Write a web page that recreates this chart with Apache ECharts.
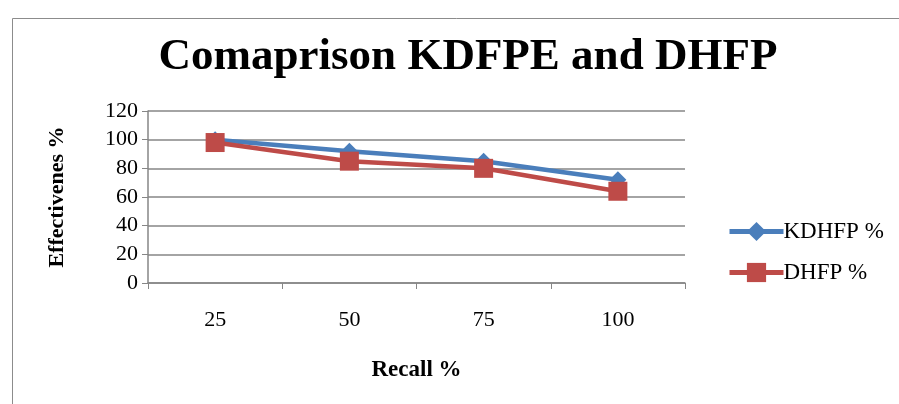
<!DOCTYPE html>
<html><head><meta charset="utf-8">
<script src="https://cdn.jsdelivr.net/npm/echarts@6/dist/echarts.min.js"></script>
<style>html,body{margin:0;padding:0;background:#fff}#c{width:899px;height:404px}</style>
</head><body><div id="c"></div>
<script>
const categories = ['25', '50', '75', '100'];
const kdhfp = [100, 92, 85, 72];
const dhfp = [98, 85, 80, 64];
const yTicks = [0, 20, 40, 60, 80, 100, 120];

const chart = echarts.init(document.getElementById('c'));
const serif = '"Liberation Serif","Times New Roman",serif';
chart.setOption({
  animation: false,
  backgroundColor: '#fff',
  graphic: [{
    type: 'rect', left: 10, top: 16, shape: { width: 1000, height: 1000 },
    style: { fill: 'none', stroke: '#8c8c8c', lineWidth: 1 }, silent: true
  }],
  title: {
    text: 'Comaprison KDFPE and DHFP',
    left: 463, top: 30, textAlign: 'center',
    textStyle: { fontFamily: serif, fontWeight: 'bold', fontSize: 45, color: '#000' }
  },
  legend: {
    orient: 'vertical', left: 722, top: 215, itemGap: 18,
    itemWidth: 54, itemHeight: 24,
    lineStyle: { width: 5 },
    textStyle: { fontFamily: serif, fontSize: 23, color: '#000', padding: [0,0,0,-5] },
    data: ['KDHFP %', 'DHFP %']
  },
  grid: { left: 148, right: 214, top: 111, bottom: 121 },
  xAxis: {
    type: 'category', data: categories, boundaryGap: true,
    name: 'Recall %', nameLocation: 'middle', nameGap: 76,
    nameTextStyle: { fontFamily: serif, fontWeight: 'bold', fontSize: 23, color: '#000' },
    axisLine: { lineStyle: { color: '#868686', width: 1.5 } },
    axisTick: { show: true, length: 6, lineStyle: { color: '#868686' } },
    axisLabel: { fontFamily: serif, fontSize: 22, color: '#000', margin: 26 }
  },
  yAxis: {
    type: 'value', min: 0, max: 120, interval: 20,
    name: 'Effectivenes %', nameLocation: 'middle', nameGap: 80, nameRotate: 90,
    nameTextStyle: { fontFamily: serif, fontWeight: 'bold', fontSize: 22, color: '#000' },
    axisLine: { show: true, lineStyle: { color: '#868686', width: 1.5 } },
    axisTick: { show: true, length: 6, lineStyle: { color: '#868686' } },
    axisLabel: { fontFamily: serif, fontSize: 22, color: '#000', margin: 10,
      formatter: v => yTicks.includes(v) ? String(v) : '' },
    splitLine: { lineStyle: { color: '#868686', width: 1.5 } }
  },
  series: [
    { name: 'KDHFP %', type: 'line', data: kdhfp, symbol: 'diamond', symbolSize: 17,
      itemStyle: { color: '#4A7EBB' }, lineStyle: { color: '#4A7EBB', width: 4.5 } },
    { name: 'DHFP %', type: 'line', data: dhfp, symbol: 'rect', symbolSize: 19,
      itemStyle: { color: '#BE4B48' }, lineStyle: { color: '#BE4B48', width: 4.5 } }
  ]
});
</script></body></html>
